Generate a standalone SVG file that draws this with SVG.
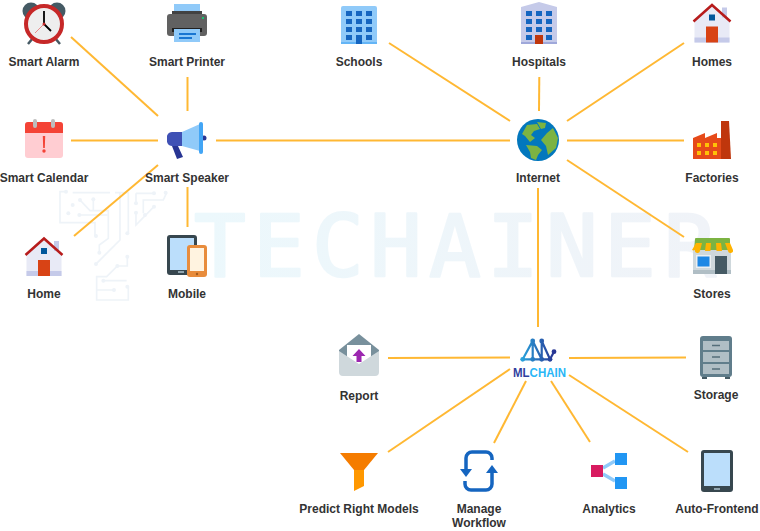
<svg xmlns="http://www.w3.org/2000/svg" width="760" height="531" viewBox="0 0 760 531">
<style>
text{font-family:"Liberation Sans",Arial,sans-serif}
.l{font-size:12px;font-weight:700;fill:#333;text-anchor:middle}
.c line{stroke:#ffb833;stroke-width:2;fill:none}
.wm path{fill:none;stroke:#eef3f8;stroke-width:5}
.wm circle{fill:#eef3f8}
.win{fill:#1565c0}
.fw{fill:#ffc107}
</style>
<defs>
<linearGradient id="wg" gradientUnits="userSpaceOnUse" x1="200" y1="0" x2="710" y2="0"><stop offset="0" stop-color="#ecf8fc"/><stop offset="1" stop-color="#f0f3f8"/></linearGradient>
<linearGradient id="ml" gradientUnits="userSpaceOnUse" x1="522" y1="0" x2="554" y2="0"><stop offset="0" stop-color="#29a3dc"/><stop offset="1" stop-color="#283593"/></linearGradient>
<g id="house">
<polygon points="26.500,255 44,239 61.500,255 61.500,276 26.500,276" fill="#e8eaf6"/>
<rect x="54" y="241" width="5" height="10" fill="#c5cae9"/>
<rect x="26.500" y="271" width="35" height="5" fill="#c5cae9"/>
<rect x="38" y="260" width="12" height="16" fill="#d84315"/>
<rect x="41" y="248" width="6" height="6" fill="#01579b"/>
<polyline points="25.500,255 44,238.500 62.500,255" fill="none" stroke="#b71c1c" stroke-width="2.500"/>
</g>
</defs>
<g id="watermark" class="wm">
<text x="220 279 338 396 455 513 572 630 690" y="276" font-size="86" text-anchor="middle" style="font-family:'DejaVu Sans Mono',monospace;font-weight:400" fill="url(#wg)" stroke="url(#wg)" stroke-width="2.500" stroke-linejoin="round">TECHAINER</text>
<g transform="translate(0 150) scale(.3333)">
<path d="M198 125H180V218H285V258M218 128H330M240 150L270 182H320M280 148V182H325V265L298 285V305M238 195H322M345 128H385V250M360 128V270L290 340M408 130H462M408 130V160M430 190V150H490L500 128M408 188V225L462 170M382 320V348H352L320 380H290V450H385V410M310 392H380M290 420H342"/>
<circle cx="198" cy="125" r="6"/><circle cx="218" cy="165" r="6"/><circle cx="240" cy="150" r="6"/><circle cx="280" cy="148" r="6"/><circle cx="205" cy="190" r="6"/><circle cx="238" cy="195" r="6"/><circle cx="288" cy="258" r="6"/><circle cx="298" cy="308" r="6"/><circle cx="382" cy="250" r="6"/><circle cx="288" cy="342" r="6"/><circle cx="462" cy="130" r="6"/><circle cx="408" cy="160" r="6"/><circle cx="497" cy="128" r="6"/><circle cx="408" cy="188" r="6"/><circle cx="435" cy="195" r="6"/><circle cx="462" cy="170" r="6"/><circle cx="382" cy="320" r="6"/><circle cx="352" cy="348" r="6"/><circle cx="382" cy="410" r="6"/><circle cx="310" cy="392" r="6"/><circle cx="342" cy="420" r="6"/>
</g>
</g>
<g id="connectors" class="c">
<line x1="71" y1="37" x2="158" y2="116"/>
<line x1="187.500" y1="77" x2="187.500" y2="111"/>
<line x1="71" y1="140.500" x2="158" y2="140.500"/>
<line x1="216" y1="140.500" x2="510" y2="140.500"/>
<line x1="158" y1="165" x2="74" y2="236"/>
<line x1="187.500" y1="187" x2="187.500" y2="227"/>
<line x1="389" y1="43" x2="510" y2="121"/>
<line x1="539.300" y1="77" x2="539" y2="111"/>
<line x1="684" y1="43" x2="567" y2="121"/>
<line x1="567" y1="140.500" x2="684" y2="140.500"/>
<line x1="567" y1="160" x2="684" y2="237"/>
<line x1="538" y1="188" x2="538" y2="327"/>
<line x1="388" y1="358" x2="510" y2="357.500"/>
<line x1="569" y1="358" x2="686" y2="357.500"/>
<line x1="388" y1="452" x2="510" y2="369"/>
<line x1="526" y1="381" x2="494" y2="443"/>
<line x1="551" y1="381" x2="590" y2="442"/>
<line x1="569" y1="375" x2="688" y2="452"/>
</g>
<g id="smart-alarm">
<circle cx="31" cy="11" r="8.500" fill="#455a64"/><circle cx="57" cy="11" r="8.500" fill="#455a64"/>
<path d="M33 38L28 44M55 38L60 44" stroke="#455a64" stroke-width="2.500"/>
<circle cx="44" cy="24" r="18" fill="#eee" stroke="#c62828" stroke-width="4"/>
<path d="M44 24V11M44 24L51 31" stroke="#000" stroke-width="1.800"/><path d="M44 24L35 33" stroke="#e57373" stroke-width=".8"/>
<circle cx="44" cy="24" r="1.500" fill="#c62828"/>
<text class="l" x="44" y="66">Smart Alarm</text>
</g>
<g id="smart-printer">
<rect x="174" y="4" width="26" height="12" fill="#90caf9"/>
<rect x="172" y="11" width="30" height="5" fill="#424242"/>
<rect x="167" y="14" width="40" height="22" rx="3" fill="#616161"/>
<rect x="172" y="28" width="30" height="4" fill="#212121"/>
<rect x="174" y="29" width="26" height="13" fill="#90caf9"/>
<path d="M179 34H196M179 38H192" stroke="#1976d2" stroke-width="2"/>
<circle cx="203" cy="18" r="1" fill="#00e676"/>
<text class="l" x="187" y="66">Smart Printer</text>
</g>
<g id="smart-calendar">
<rect x="25" y="122" width="38" height="36" rx="3" fill="#ffcdd2"/>
<path d="M25 133V125a3 3 0 0 1 3-3H60a3 3 0 0 1 3 3V133Z" fill="#f44336"/>
<rect x="33" y="119" width="4" height="9" rx="2" fill="#bdbdbd"/><rect x="51" y="119" width="4" height="9" rx="2" fill="#bdbdbd"/>
<path d="M42.800 136H45.200L44.800 148H43.200Z" fill="#f44336"/><circle cx="44" cy="151" r="1.700" fill="#f44336"/>
<text class="l" x="44" y="182">Smart Calendar</text>
</g>
<g id="smart-speaker">
<path d="M172 146H178L183 157L177 159Z" fill="#283593"/>
<path d="M167 138a5 5 0 0 1 5-6H182V146H172a5 5 0 0 1-5-6Z" fill="#3f51b5"/>
<polygon points="182,132 200,124 200,151 182,146" fill="#90caf9"/>
<circle cx="204" cy="138" r="2.500" fill="#283593"/>
<rect x="199" y="122" width="4" height="32" rx="2" fill="#42a5f5"/>
<text class="l" x="187" y="182">Smart Speaker</text>
</g>
<g id="home">
<use href="#house"/>
<text class="l" x="44" y="298">Home</text>
</g>
<g id="mobile">
<rect x="167" y="235" width="30" height="40" rx="3" fill="#37474f"/>
<rect x="170" y="238" width="24" height="32" fill="#bbdefb"/>
<rect x="178" y="271" width="6" height="2" fill="#90a4ae"/>
<rect x="187" y="245" width="20" height="32" rx="3" fill="#e88c3c"/>
<rect x="190" y="248" width="14" height="23" fill="#fff3e0"/>
<circle cx="197" cy="274" r="1.200" fill="#a15c1e"/>
<text class="l" x="187" y="298">Mobile</text>
</g>
<g id="schools">
<rect x="341" y="6" width="36" height="38" rx="2" fill="#90caf9"/>
<rect x="341" y="42" width="36" height="2" fill="#64b5f6"/>
<path class="win" d="M346 11h6v5h-6zM356 11h6v5h-6zM366 11h6v5h-6zM346 19h6v5h-6zM356 19h6v5h-6zM366 19h6v5h-6zM346 27h6v5h-6zM356 27h6v5h-6zM366 27h6v5h-6zM346 35h6v5h-6zM356 35h6v9h-6zM366 35h6v5h-6z"/>
<text class="l" x="359" y="66">Schools</text>
</g>
<g id="hospitals">
<polygon points="521,7 539,2 557,7 557,44 521,44" fill="#c5cae9"/>
<rect x="521" y="42" width="36" height="2" fill="#9fa8da"/>
<path class="win" d="M526 11h6v5h-6zM536 11h6v5h-6zM546 11h6v5h-6zM526 19h6v5h-6zM536 19h6v5h-6zM546 19h6v5h-6zM526 27h6v5h-6zM536 27h6v5h-6zM546 27h6v5h-6zM526 35h6v5h-6zM546 35h6v5h-6z"/>
<rect x="535" y="35" width="8" height="9" fill="#bf360c"/>
<text class="l" x="539" y="66">Hospitals</text>
</g>
<g id="homes">
<use href="#house" transform="translate(668 -233.500)"/>
<text class="l" x="712" y="66">Homes</text>
</g>
<g id="internet">
<circle cx="538" cy="140" r="21" fill="#0277bd"/>
<path d="M527 125L537 124L540 129L534 131L531 135L535 138L530 142L525 136L522 134ZM537 122L546 123L545 128L541 129ZM553 128L558 138L556 148L548 155L546 146L541 140L547 133ZM526 145L537 146L542 150L538 155L536 160L531 158L530 152Z" fill="#7cb342"/>
<text class="l" x="538" y="182">Internet</text>
</g>
<g id="factories">
<polygon points="693,138 705,133 705,138 717,133 717,138 722,138 722,159 693,159" fill="#e64a19"/>
<polygon points="721,121 729,121 731,159 721,159" fill="#bf360c"/>
<path class="fw" d="M697 143h4v4h-4zM705 143h4v4h-4zM713 143h4v4h-4zM697 151h4v4h-4zM705 151h4v4h-4zM713 151h4v4h-4z"/>
<text class="l" x="712" y="182">Factories</text>
</g>
<g id="stores">
<rect x="693" y="250" width="38" height="24" fill="#cfd8dc"/>
<rect x="693" y="270" width="38" height="4" fill="#b0bec5"/>
<rect x="696" y="255" width="15" height="13" fill="#eceff1"/><rect x="697.500" y="256.500" width="12" height="10" fill="#1e88e5"/>
<rect x="715" y="256" width="12" height="18" fill="#455a64"/>
<path d="M695 239a1 1 0 0 1 1-1H729a1 1 0 0 1 1 1L730 250H694Z" fill="#7cb342"/>
<path d="M696 243H702L700 251a2.500 2.500 0 0 1-5-1 3 3 0 0 1-3 0ZM706 243H711L710.500 251H705ZM716 243H721L722 251H716.500ZM725 243H730L733 250a2.500 2.500 0 0 1-5 1Z" fill="#ffb300"/>
<text class="l" x="712" y="298">Stores</text>
</g>
<g id="report">
<polygon points="339,350 359,334 379,350 379,362 339,362" fill="#78909c"/>
<rect x="347" y="345" width="24" height="22" fill="#fff"/>
<path d="M359 349L365.500 356H361.500V362H356.500V356H352.500Z" fill="#9c27b0"/>
<path d="M339 351L359 364L379 351V372a4 4 0 0 1-4 4H343a4 4 0 0 1-4-4Z" fill="#cfd8dc"/>
<text class="l" x="359" y="400">Report</text>
</g>
<g id="mlchain">
<path d="M522.700 359.300L532.700 341L541.700 359.300L541.700 341L550 359.300L554 351.700M532.700 341L532.700 359.300M522.700 359.300H550" fill="none" stroke="url(#ml)" stroke-width="2.200"/>
<g fill="url(#ml)"><circle cx="532.700" cy="341" r="2.400"/><circle cx="541.700" cy="341" r="2.400"/><circle cx="522.700" cy="359.300" r="2.400"/><circle cx="532.700" cy="359.300" r="2.400"/><circle cx="541.700" cy="359.300" r="2.400"/><circle cx="550" cy="359.300" r="2.400"/><circle cx="554" cy="351.700" r="2.400"/></g>
<text x="513" y="377" font-size="12.500" font-weight="700" textLength="53" lengthAdjust="spacingAndGlyphs"><tspan fill="#303f9f">ML</tspan><tspan fill="#29b6f6">CHAIN</tspan></text>
</g>
<g id="storage">
<rect x="700" y="336" width="32" height="41" rx="3" fill="#607d8b"/>
<path d="M702 377h5v2h-5zM725 377h5v2h-5z" fill="#455a64"/>
<path d="M703 341h26v9h-26zM703 352h26v10h-26zM703 364h26v10h-26z" fill="#b0bec5"/>
<path d="M712 345.500h8M712 357h8M712 369h8" stroke="#546e7a" stroke-width="1.500"/>
<text class="l" x="716" y="399">Storage</text>
</g>
<g id="predict-right-models">
<polygon points="340,453 378,453 364,470 354,470" fill="#f57c00"/>
<polygon points="354,470 364,470 364,486 354,491" fill="#ff9800"/>
<text class="l" x="359" y="513">Predict Right Models</text>
</g>
<g id="manage-workflow">
<path d="M466 470V458a6 6 0 0 1 6-6H486a6 6 0 0 1 6 6V460M492 472V484a6 6 0 0 1-6 6H471a6 6 0 0 1-6-6V481" fill="none" stroke="#1565c0" stroke-width="3.500"/>
<path d="M460 469H472L466 477ZM498 473H486L492 465Z" fill="#1565c0"/>
<text class="l" x="479" y="513">Manage</text>
<text class="l" x="479" y="527">Workflow</text>
</g>
<g id="analytics">
<path d="M603 468L615 461M603 474L615 481" stroke="#90caf9" stroke-width="3.500"/>
<rect x="591" y="465" width="12" height="12" fill="#d81b60"/>
<rect x="615" y="453" width="12" height="12" fill="#2196f3"/>
<rect x="615" y="477" width="12" height="12" fill="#2196f3"/>
<text class="l" x="609" y="513">Analytics</text>
</g>
<g id="auto-frontend">
<rect x="701" y="450" width="32" height="42" rx="3" fill="#37474f"/>
<rect x="704" y="453" width="26" height="33" fill="#bbdefb"/>
<rect x="714" y="488" width="6" height="2" fill="#90a4ae"/>
<text class="l" x="717" y="513">Auto-Frontend</text>
</g>
</svg>
